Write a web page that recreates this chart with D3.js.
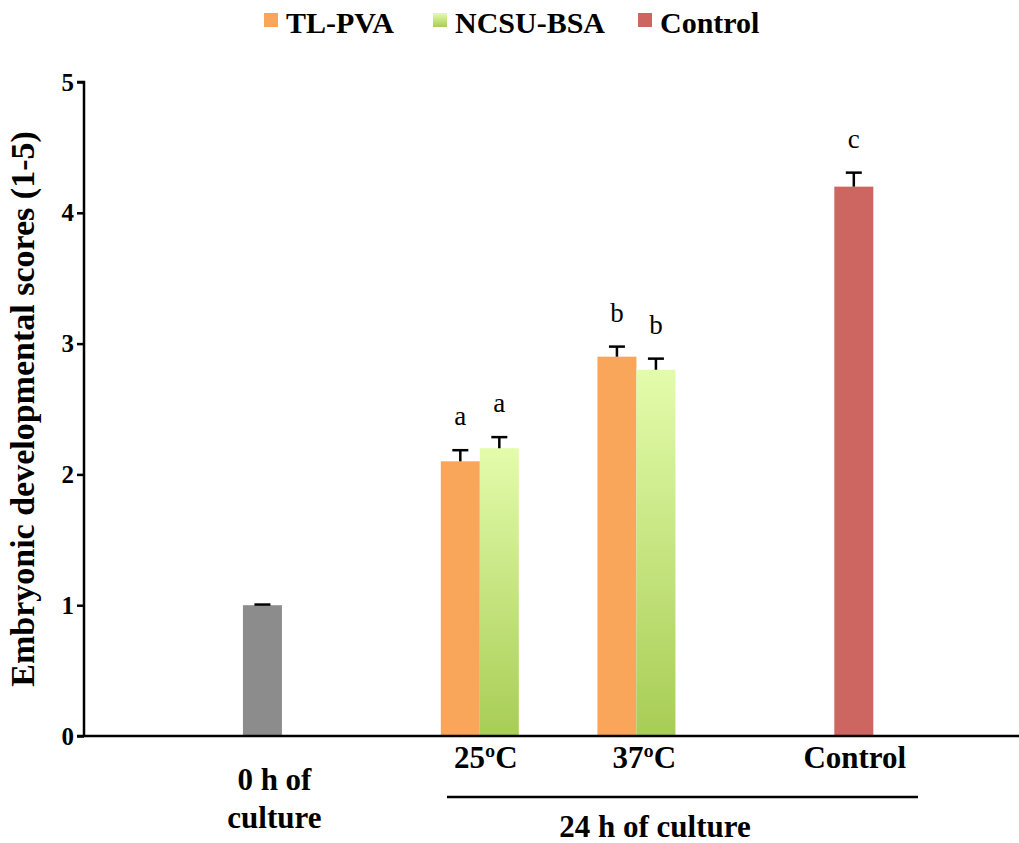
<!DOCTYPE html>
<html><head><meta charset="utf-8">
<script src="https://cdn.jsdelivr.net/npm/d3@7"></script>
<style>body{margin:0;background:#fff}svg{display:block}text{font-family:"Liberation Serif","Times New Roman",serif}</style>
</head><body><svg id="chart" width="1019" height="843"></svg>
<script>
// ---- data ----
const groups = ["0h", "25", "37", "Control"];
const groupLabels = ["0 h of|culture", "25ºC", "37ºC", "Control"];
const seriesNames = ["TL-PVA", "NCSU-BSA", "Control"];
const baseline = {value: 1.0, err: 0.005};
const tlpva = [2.1, 2.9];          // 25ºC, 37ºC
const tlpvaErr = [0.085, 0.077];
const ncsu = [2.2, 2.8];
const ncsuErr = [0.085, 0.085];
const ctrl = 4.2, ctrlErr = 0.107;
const tlpvaLetters = ["a", "b"];
const ncsuLetters = ["a", "b"];
const ctrlLetter = "c";
const yTicks = [0, 1, 2, 3, 4, 5];
const yTitle = "Embryonic developmental scores (1-5)";
const bracketLabel = "24 h of culture";

// ---- layout ----
const svg = d3.select("#chart");
const x0 = 84, x1 = 1019, yBase = 736, yTop = 82;
const y = d3.scaleLinear().domain([0, 5]).range([yBase, yTop]);
const slot = d3.scaleLinear().domain([0, 6]).range([x0, x1]);
const groupSlot = {"0h": 1.145, "25": 2.54, "37": 3.545, "Control": 4.94};
const labelShift = {"0h": 12, "25": 6, "37": 8, "Control": 1};
const cx = g => slot(groupSlot[g]);
const bw = 39;
const colors = {"TL-PVA": "#f9a65a", "NCSU-BSA": "url(#gGreen)", "Control": "#cd6660", base: "#8c8c8c"};

const defs = svg.append("defs");
[["gGreen"], ["gGreenL"]].forEach(([id]) => {
  const lg = defs.append("linearGradient").attr("id", id).attr("x1", 0).attr("y1", 0).attr("x2", 0).attr("y2", 1);
  lg.append("stop").attr("offset", "0%").attr("stop-color", "#e3fcab");
  lg.append("stop").attr("offset", "100%").attr("stop-color", "#a8cd55");
});

// bars data built from arrays
const bars = [];
bars.push({x: cx("0h") - bw / 2, v: baseline.value, e: baseline.err, fill: colors.base, letter: null});
["25", "37"].forEach((g, i) => {
  bars.push({x: cx(g) - bw, v: tlpva[i], e: tlpvaErr[i], fill: colors["TL-PVA"], letter: tlpvaLetters[i]});
  bars.push({x: cx(g), v: ncsu[i], e: ncsuErr[i], fill: colors["NCSU-BSA"], letter: ncsuLetters[i]});
});
bars.push({x: cx("Control") - bw / 2, v: ctrl, e: ctrlErr, fill: colors.Control, letter: ctrlLetter});

svg.selectAll("rect.bar").data(bars).join("rect").attr("class", "bar")
  .attr("x", d => d.x).attr("width", bw)
  .attr("y", d => y(d.v)).attr("height", d => yBase - y(d.v))
  .attr("fill", d => d.fill);

// error bars
const eb = svg.append("g").attr("stroke", "#000").attr("stroke-width", 2.5);
bars.forEach(d => {
  const mx = d.x + bw / 2;
  eb.append("line").attr("x1", mx).attr("x2", mx).attr("y1", y(d.v)).attr("y2", y(d.v + d.e));
  eb.append("line").attr("x1", mx - 8).attr("x2", mx + 8).attr("y1", y(d.v + d.e)).attr("y2", y(d.v + d.e));
});
// letters
svg.selectAll("text.letter").data(bars.filter(d => d.letter)).join("text").attr("class", "letter")
  .attr("x", d => d.x + bw / 2).attr("y", d => y(d.v + d.e) - 25)
  .attr("text-anchor", "middle").attr("font-size", 27).text(d => d.letter);

// y axis
const yAxis = svg.append("g").attr("transform", `translate(${x0},0)`)
  .call(d3.axisLeft(y).tickValues(yTicks).tickSize(7).tickPadding(3).tickFormat(d3.format("d")));
yAxis.select(".domain").attr("stroke-width", 2.5).attr("d", `M-7,${yTop}H0V${yBase}`);
yAxis.selectAll(".tick line").attr("stroke-width", 2.5);
yAxis.selectAll(".tick text").attr("font-size", 25).attr("font-weight", "bold").attr("fill", "#000")
  .attr("font-family", "Liberation Serif, serif");

// x axis line
svg.append("line").attr("x1", x0 - 7).attr("x2", x1).attr("y1", yBase).attr("y2", yBase)
  .attr("stroke", "#000").attr("stroke-width", 2.5);

// group labels
groups.forEach((g, i) => {
  const parts = groupLabels[i].split("|");
  const lx = cx(g) + labelShift[g];
  const t = svg.append("text").attr("text-anchor", "middle").attr("font-size", 31).attr("font-weight", "bold").attr("x", lx);
  if (parts.length > 1) {
    t.attr("y", 790);
    parts.forEach((p, k) => t.append("tspan").attr("x", lx).attr("dy", k === 0 ? 0 : 38).text(p));
  } else {
    t.attr("y", 768).text(parts[0]);
  }
});

// bracket spanning the 24 h groups
svg.append("line").attr("x1", 447).attr("x2", 918).attr("y1", 797).attr("y2", 797)
  .attr("stroke", "#000").attr("stroke-width", 2.5);
svg.append("text").attr("x", 655).attr("y", 837).attr("text-anchor", "middle")
  .attr("font-size", 31).attr("font-weight", "bold").text(bracketLabel);

// y title
svg.append("text").attr("transform", `translate(34,409) rotate(-90)`).attr("text-anchor", "middle")
  .attr("font-size", 34).attr("font-weight", "bold").text(yTitle);

// legend
const legX = [264, 433, 638];
const legFill = ["#f9a65a", "url(#gGreenL)", "#cd6660"];
seriesNames.forEach((s, i) => {
  svg.append("rect").attr("x", legX[i]).attr("y", 13).attr("width", 14).attr("height", 14).attr("fill", legFill[i]);
  svg.append("text").attr("x", legX[i] + 22).attr("y", 33).attr("font-size", 30).attr("font-weight", "bold").text(s);
});
</script></body></html>
